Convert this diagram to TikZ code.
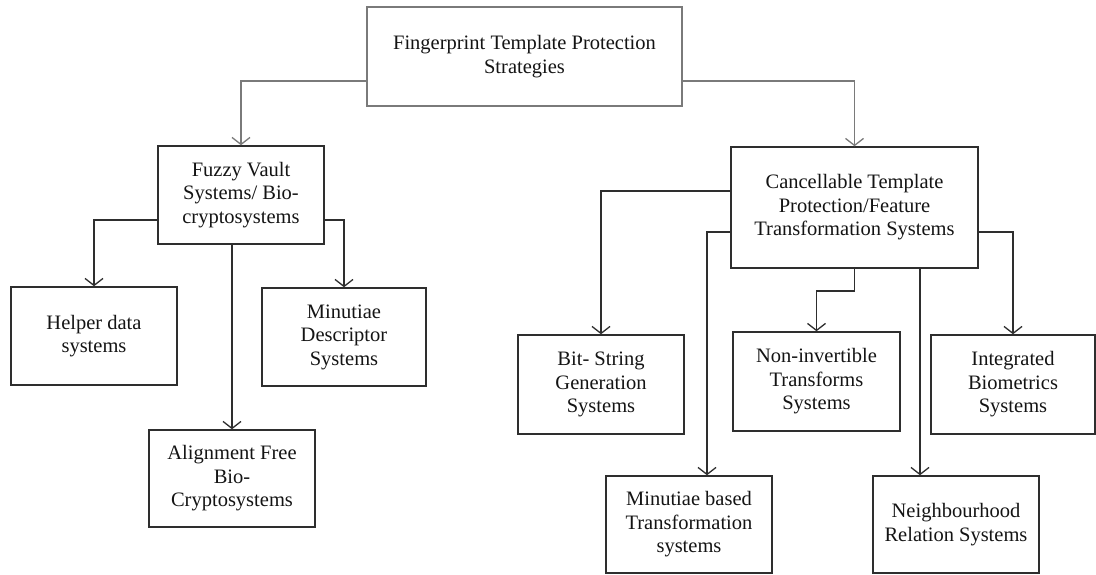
\documentclass[tikz,border=0pt]{standalone}
\usepackage{fontspec}
\setmainfont{Liberation Serif}
\usetikzlibrary{arrows.meta,calc}
\definecolor{boxline}{HTML}{2E2E2E}
\definecolor{topline}{HTML}{7A7A7A}
\definecolor{txt}{HTML}{141414}
\begin{document}
\begin{tikzpicture}[x=1pt,y=-1pt,
  box/.style={draw=boxline,line width=1.5pt,rectangle,inner sep=0pt,align=center,
    text=txt,font=\fontsize{20.5}{23.5}\selectfont},
  topbox/.style={box,draw=topline},
  arr/.style={draw=boxline,line width=1.4pt,-{Straight Barb[length=7pt,width=18pt,line width=1.3pt]}},
  toparr/.style={arr,draw=topline}]
\useasboundingbox (0,0) rectangle (1096,574);

\node[topbox,minimum width=315pt,minimum height=99pt] (top) at (524.5,56.5)
  {Fingerprint Template Protection\\Strategies};
\node[box,minimum width=166pt,minimum height=98pt] (fuzzy) at (241,195)
  {Fuzzy Vault\\Systems/ Bio-\\cryptosystems};
\node[box,minimum width=247pt,minimum height=121pt] (canc) at (854.5,207.5)
  {Cancellable Template\\Protection/Feature\\Transformation Systems};
\node[box,minimum width=166pt,minimum height=98pt] (helper) at (94,336)
  {Helper data\\systems};
\node[box,minimum width=164pt,minimum height=98pt] (mdesc) at (344,337)
  {Minutiae\\Descriptor\\Systems};
\node[box,minimum width=166pt,minimum height=97pt] (align) at (232,478.5)
  {Alignment Free\\Bio-\\Cryptosystems};
\node[box,minimum width=166pt,minimum height=99pt] (bits) at (601,384.5)
  {Bit- String\\Generation\\Systems};
\node[box,minimum width=167pt,minimum height=99pt] (noninv) at (816.5,381.5)
  {Non-invertible\\Transforms\\Systems};
\node[box,minimum width=164pt,minimum height=99pt] (integ) at (1013,384.5)
  {Integrated\\Biometrics\\Systems};
\node[box,minimum width=166pt,minimum height=97pt] (mbased) at (689,524.5)
  {Minutiae based\\Transformation\\systems};
\node[box,minimum width=166pt,minimum height=97pt] (neigh) at (956,524.5)
  {Neighbourhood\\Relation Systems};

\coordinate (mbin) at ($(mbased.north)+(18,0)$);
\coordinate (nbin) at ($(neigh.north)+(-36,0)$);

\draw[toparr] (top.west |- 0,81) -| (fuzzy.north);
\draw[toparr] (top.east |- 0,81) -| (canc.north);

\draw[arr] (fuzzy.west |- 0,220) -| (helper.north);
\draw[arr] (fuzzy.east |- 0,220) -| (mdesc.north);
\draw[arr] (fuzzy.south -| align.north) -- (align.north);

\draw[arr] (canc.west |- 0,191) -| (bits.north);
\draw[arr] (canc.west |- 0,232) -| (mbin);
\draw[arr] (canc.south) -- (canc.south |- 0,291) -| (noninv.north);
\draw[arr] (canc.south -| nbin) -- (nbin);
\draw[arr] (canc.east |- 0,232) -| (integ.north);
\end{tikzpicture}
\end{document}
